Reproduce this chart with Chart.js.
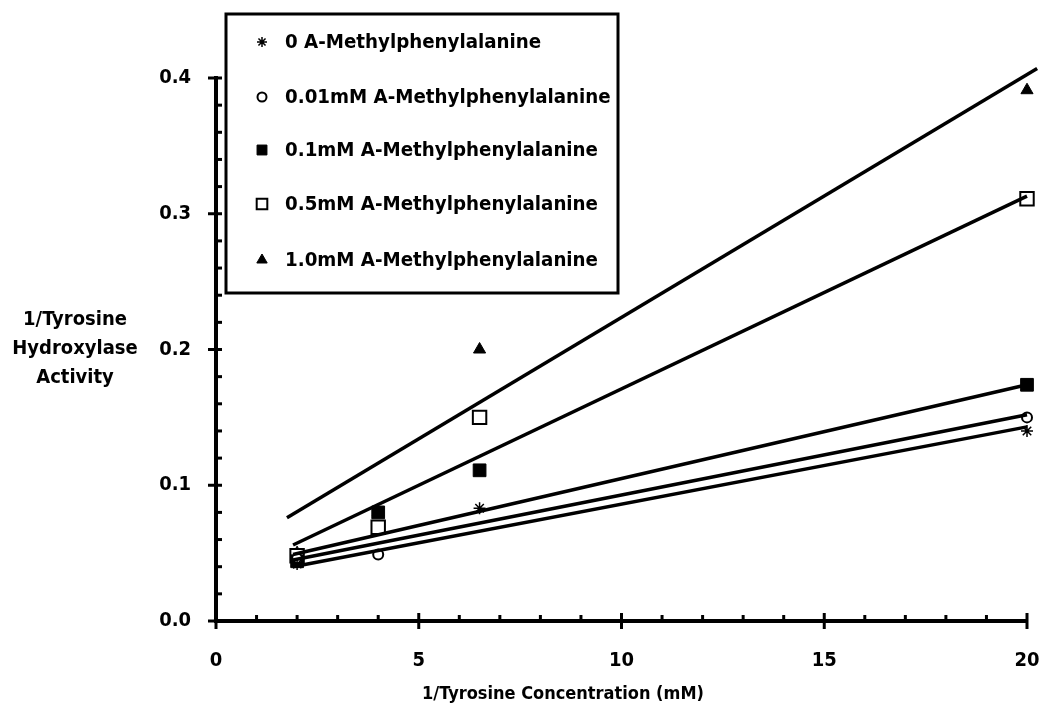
<!DOCTYPE html>
<html><head><meta charset="utf-8">
<script src="https://cdn.jsdelivr.net/npm/chart.js@4.4.0/dist/chart.umd.min.js"></script>
<style>html,body{margin:0;padding:0;background:#fff;}#wrap{width:1044px;height:708px;}</style>
</head><body><div id="wrap"><canvas id="c" width="1044" height="708"></canvas></div>
<script>
// ---- data ----
const seriesLabels = ['0 A-Methylphenylalanine','0.01mM A-Methylphenylalanine','0.1mM A-Methylphenylalanine','0.5mM A-Methylphenylalanine','1.0mM A-Methylphenylalanine'];
const conc0X = [2, 6.5, 20];          const conc0Y = [0.042, 0.083, 0.140];
const conc001X = [2, 4, 20];          const conc001Y = [0.046, 0.049, 0.150];
const conc01X = [2, 4, 6.5, 20];      const conc01Y = [0.044, 0.080, 0.111, 0.174];
const conc05X = [2, 4, 6.5, 20];      const conc05Y = [0.048, 0.069, 0.150, 0.311];
const conc10X = [2, 4, 6.5, 20];      const conc10Y = [0.050, 0.080, 0.200, 0.391];
// fitted regression lines (start / end)
const fit0X = [1.9, 20];    const fit0Y = [0.040, 0.143];
const fit001X = [1.9, 20];  const fit001Y = [0.045, 0.152];
const fit01X = [1.9, 20];   const fit01Y = [0.049, 0.174];
const fit05X = [1.9, 20];   const fit05Y = [0.056, 0.313];
const fit10X = [1.75, 20.25]; const fit10Y = [0.076, 0.407];
const xTickLabels = ['0','5','10','15','20'];
const yTickLabels = ['0.0','0.1','0.2','0.3','0.4'];
const xTitle = '1/Tyrosine Concentration (mM)';
const yTitleLines = ['1/Tyrosine','Hydroxylase','Activity'];

const FONT = '"DejaVu Sans Condensed", "DejaVu Sans", sans-serif';
const pts = (xs, ys) => xs.map((x, i) => ({x, y: ys[i]}));

const markerStyles = [
  {pointStyle:'star', radius:6, fill:'#000', border:'#000', bw:1.5, legendRadius:5},
  {pointStyle:'circle', radius:5, fill:'#fff', border:'#000', bw:2, legendRadius:4.5},
  {pointStyle:'rect', radius:9, fill:'#000', border:'#000', bw:1, legendRadius:7},
  {pointStyle:'rect', radius:9.5, fill:'#fff', border:'#000', bw:2, legendRadius:7.5},
  {pointStyle:'triangle', radius:7, fill:'#000', border:'#000', bw:1, legendRadius:6}
];
const pointSets = [[conc0X,conc0Y],[conc001X,conc001Y],[conc01X,conc01Y],[conc05X,conc05Y],[conc10X,conc10Y]];
const fitSets = [[fit0X,fit0Y],[fit001X,fit001Y],[fit01X,fit01Y],[fit05X,fit05Y],[fit10X,fit10Y]];

const datasets = [];
fitSets.forEach((f, i) => datasets.push({
  label: seriesLabels[i] + ' fit', data: pts(f[0], f[1]), showLine: true, pointRadius: 0,
  borderColor: '#000', borderWidth: 3.5, clip: false, isFit: true
}));
pointSets.forEach((p, i) => {
  const m = markerStyles[i];
  datasets.push({
    label: seriesLabels[i], data: pts(p[0], p[1]), showLine: false,
    pointStyle: m.pointStyle, pointRadius: m.radius, pointBackgroundColor: m.fill,
    pointBorderColor: m.border, pointBorderWidth: m.bw, clip: false, legendRadius: m.legendRadius
  });
});

const tickPlugin = {
  id: 'tickMarks',
  afterDraw(chart) {
    const ctx = chart.ctx, xs = chart.scales.x, ys = chart.scales.y;
    const bottom = ys.getPixelForValue(0), left = xs.getPixelForValue(0);
    ctx.save();
    ctx.strokeStyle = '#000'; ctx.lineWidth = 3; ctx.lineCap = 'butt';
    for (let v = 0; v <= 20; v++) {
      const px = xs.getPixelForValue(v);
      const major = v % 5 === 0;
      ctx.beginPath(); ctx.moveTo(px, bottom + (major ? 8 : 0)); ctx.lineTo(px, bottom - (major ? 8 : 6)); ctx.stroke();
    }
    for (let k = 0; k <= 20; k++) {
      const py = ys.getPixelForValue(k * 0.02);
      const major = k % 5 === 0;
      ctx.beginPath(); ctx.moveTo(left - (major ? 8 : 0), py); ctx.lineTo(left + 6, py); ctx.stroke();
    }
    ctx.restore();
  }
};

const textPlugin = {
  id: 'texts',
  afterDraw(chart) {
    const ctx = chart.ctx;
    ctx.save();
    ctx.fillStyle = '#000';
    ctx.font = 'bold 20px ' + FONT;
    ctx.textAlign = 'center'; ctx.textBaseline = 'middle';
    const yl = [320, 349, 378];
    yTitleLines.forEach((t, i) => ctx.fillText(t, 75, yl[i]));
    ctx.font = 'bold 18px ' + FONT;
    ctx.fillText(xTitle, 563, 694);
    // legend box
    const bx = 226, by = 14, bw = 392, bh = 279;
    ctx.fillStyle = '#fff'; ctx.fillRect(bx, by, bw, bh);
    ctx.strokeStyle = '#000'; ctx.lineWidth = 3; ctx.strokeRect(bx, by, bw, bh);
    const rows = [42, 97, 150, 204, 260];
    ctx.font = 'bold 20.3px ' + FONT;
    const pointDs = chart.data.datasets.filter(d => !d.isFit);
    pointDs.forEach((d, i) => {
      ctx.fillStyle = d.pointBackgroundColor; ctx.strokeStyle = d.pointBorderColor; ctx.lineWidth = d.pointBorderWidth;
      Chart.helpers.drawPoint(ctx, {pointStyle: d.pointStyle, radius: d.legendRadius, rotation: 0, borderWidth: d.pointBorderWidth}, 262, rows[i]);
      ctx.fillStyle = '#000'; ctx.textAlign = 'left';
      ctx.fillText(d.label, 285, rows[i] + 1);
    });
    ctx.restore();
  }
};

new Chart(document.getElementById('c'), {
  type: 'scatter',
  data: { datasets },
  options: {
    responsive: false, animation: false, devicePixelRatio: 1,
    layout: { padding: { left: 0, right: 17, top: 78, bottom: 0 } },
    plugins: { legend: { display: false }, tooltip: { enabled: false } },
    scales: {
      x: {
        type: 'linear', min: 0, max: 20,
        afterFit: s => { s.height = 87; s.paddingLeft = 0; s.paddingRight = 0; },
        grid: { display: false },
        border: { display: true, color: '#000', width: 4 },
        ticks: { stepSize: 5, color: '#000', padding: 20, font: { family: FONT, size: 20, weight: 'bold' },
          callback: (v) => xTickLabels[Math.round(v / 5)] }
      },
      y: {
        type: 'linear', min: 0, max: 0.4,
        afterFit: s => { s.width = 216; s.paddingTop = 0; s.paddingBottom = 0; },
        grid: { display: false },
        border: { display: true, color: '#000', width: 4 },
        ticks: { stepSize: 0.1, color: '#000', padding: 17, font: { family: FONT, size: 20, weight: 'bold' },
          callback: (v) => yTickLabels[Math.round(v * 10)] }
      }
    }
  },
  plugins: [tickPlugin, textPlugin]
});
</script></body></html>
